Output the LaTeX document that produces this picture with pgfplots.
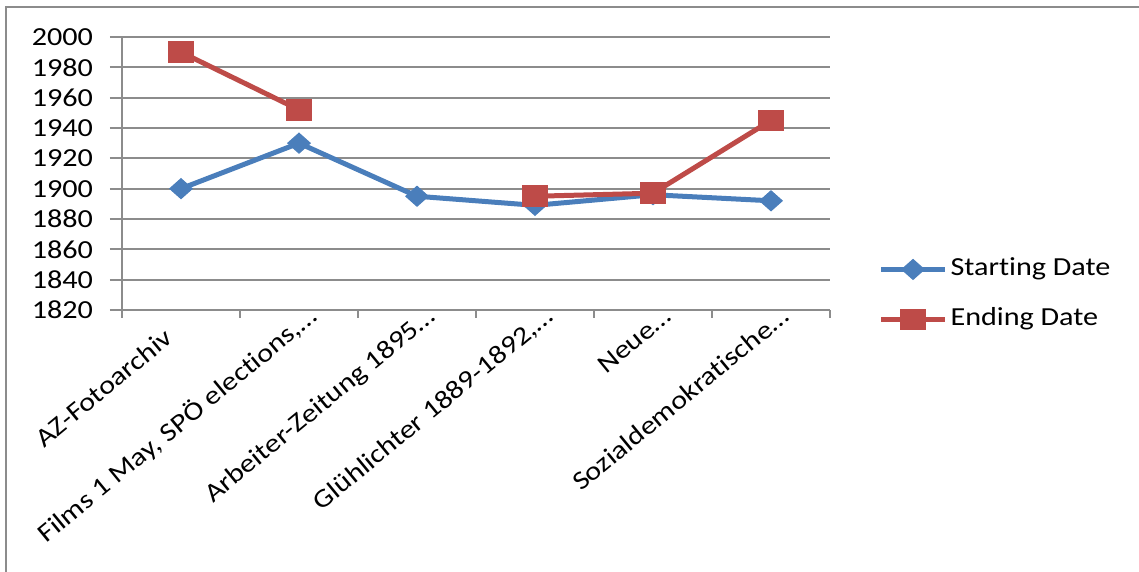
\documentclass[border=0pt]{standalone}
\usepackage{pgfplots}
\pgfplotsset{compat=1.18}
\usepackage{fontspec}
\setmainfont{Carlito}[FakeStretch=1.16, Ligatures=NoCommon]
\definecolor{sblue}{HTML}{4A7EBB}
\definecolor{ered}{HTML}{BE4B48}
\definecolor{gridgray}{HTML}{8C8C8C}
\newcommand\f{\fontsize{13}{15.6}\selectfont}
\begin{document}
\begin{tikzpicture}
\path[use as bounding box] (-61pt,-131pt) rectangle (508.5pt,155pt);
\draw[gridgray, line width=1.2pt] (-58pt,-140pt) -- (-58pt,151.5pt) -- (520pt,151.5pt);
\begin{axis}[
  at={(0,0)}, anchor=south west,
  scale only axis, width=354pt, height=136.5pt,
  xmin=-0.5, xmax=5.5, ymin=1820, ymax=2000,
  ytick={1820,1840,...,2000},
  xtick={0,...,5},
  xticklabels={AZ-Fotoarchiv\hspace*{17pt},{Films 1 May, SPÖ elections,…},Arbeiter-Zeitung 1895…,{Glühlichter 1889-1892,…},Neue…,Sozialdemokratische…},
  minor xtick={-0.5,0.5,...,5.5},
  axis x line*=bottom, axis y line*=left,
  ymajorgrids, major grid style={gridgray, line width=0.9pt},
  axis line style={gridgray, line width=0.9pt},
  tick align=outside,
  major x tick style={draw=none},
  minor tick length=4pt, major tick length=6pt,
  tick style={gridgray, line width=0.9pt},
  /pgf/number format/assume math mode=true,
  /pgf/number format/set thousands separator={},
  ticklabel style={font=\f},
  yticklabel style={xshift=-5pt},
  xticklabel style={inner sep=0pt, anchor=base east, xshift=10pt, yshift=1.5pt, rotate=39.5},
  unbounded coords=jump,
  legend style={at={(1.068,0.057)}, anchor=west, draw=none, fill=none, font=\f,
    inner sep=0pt, row sep=10pt, nodes={inner sep=1.5pt, text height=9pt, text depth=3pt}},
  legend cell align=left,
  legend image code/.code={\draw[mark repeat=2,mark phase=2,#1] plot coordinates {(0pt,0pt) (16pt,0pt) (32pt,0pt)};},
]
\addplot[sblue, line width=2.5pt, mark=diamond*, mark size=5pt,
  mark options={xscale=1.5, line width=0.5pt, fill=sblue}]
  coordinates {(0,1900) (1,1930) (2,1895) (3,1889) (4,1896) (5,1892)};
\addlegendentry{Starting Date}
\addplot[ered, line width=2.5pt, mark=square*, mark size=5.2pt,
  mark options={xscale=1.18, line width=0.5pt, fill=ered}]
  coordinates {(0,1990) (1,1952) (2,nan) (3,1895) (4,1897) (5,1945)};
\addlegendentry{Ending Date}
\end{axis}
\end{tikzpicture}
\end{document}
